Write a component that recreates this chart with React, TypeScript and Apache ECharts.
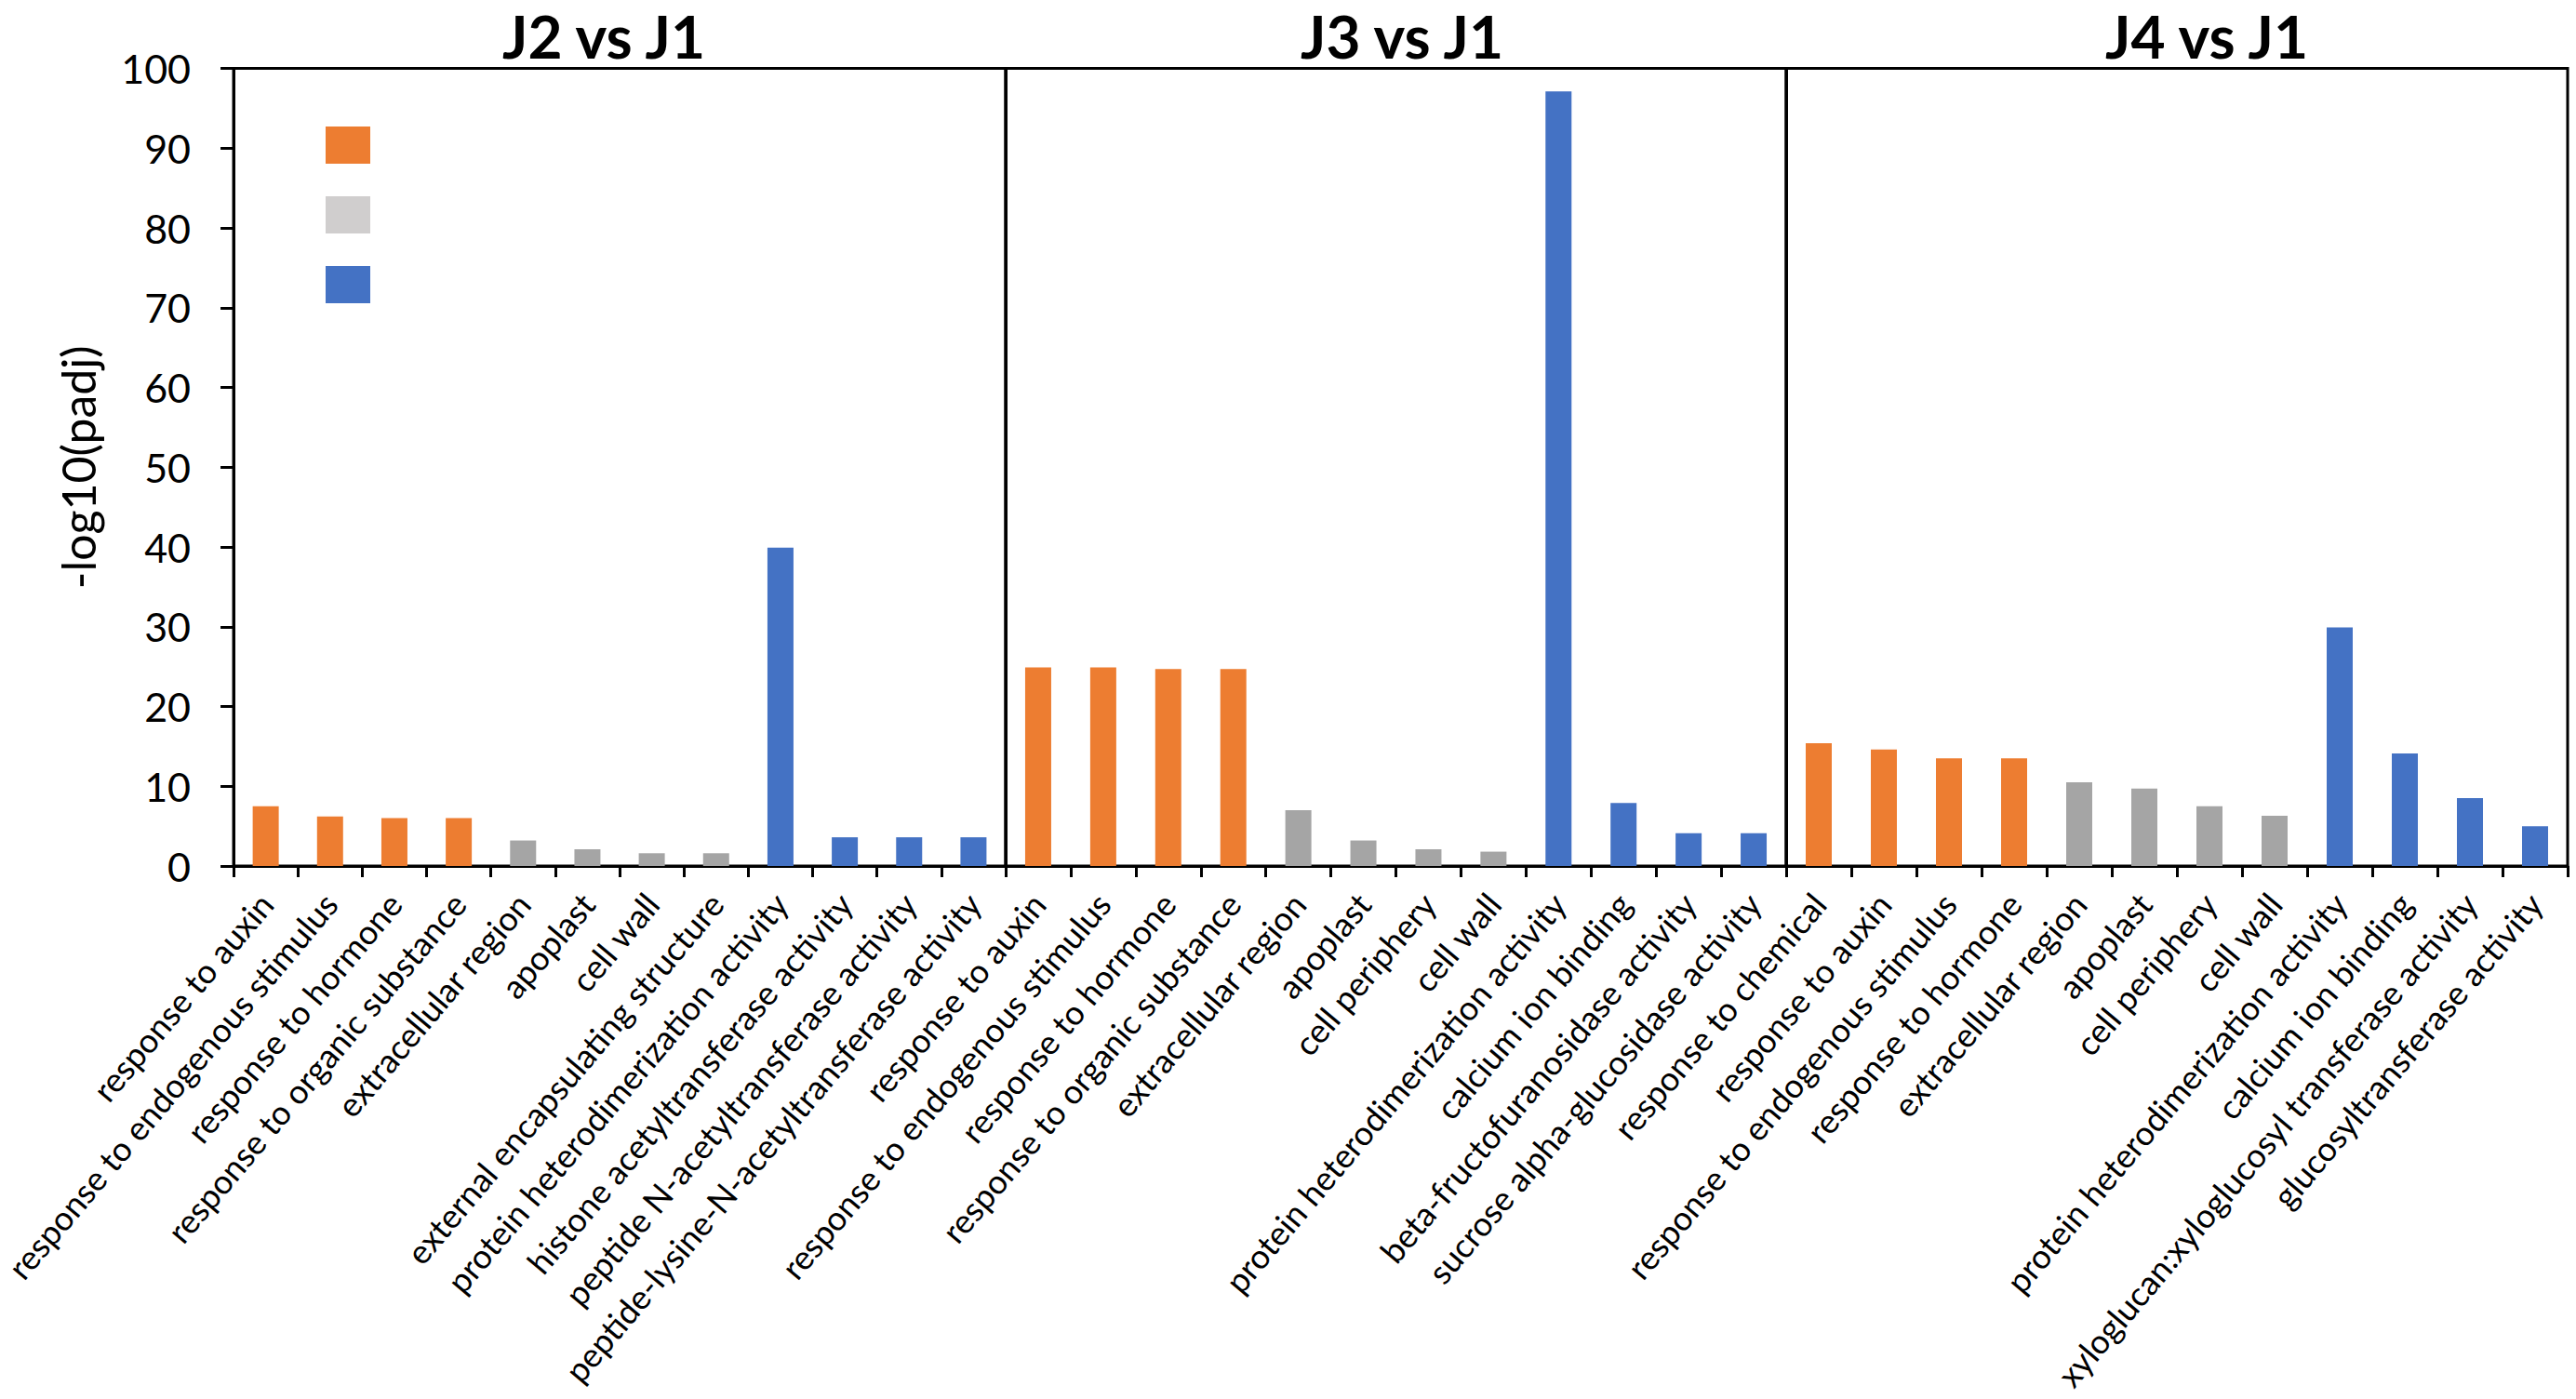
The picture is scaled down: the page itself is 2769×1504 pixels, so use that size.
import React, { useEffect, useRef } from "react";
import * as echarts from "echarts";

const groupNames = ["BP", "CC", "MF"];
const groupColors = ["#ED7D31", "#A5A5A5", "#4472C4"];
const legendColors = ["#ED7D31", "#D0CECE", "#4472C4"];

const panelTitles = ["J2 vs J1", "J3 vs J1", "J4 vs J1"];

const categoriesJ2 = [
  "response to auxin",
  "response to endogenous stimulus",
  "response to hormone",
  "response to organic substance",
  "extracellular region",
  "apoplast",
  "cell wall",
  "external encapsulating structure",
  "protein heterodimerization activity",
  "histone acetyltransferase activity",
  "peptide N-acetyltransferase activity",
  "peptide-lysine-N-acetyltransferase activity",
];
const groupsJ2 = [0, 0, 0, 0, 1, 1, 1, 1, 2, 2, 2, 2];
const valuesJ2 = [7.5, 6.2, 6.0, 6.0, 3.2, 2.1, 1.6, 1.6, 39.9, 3.6, 3.6, 3.6];

const categoriesJ3 = [
  "response to auxin",
  "response to endogenous stimulus",
  "response to hormone",
  "response to organic substance",
  "extracellular region",
  "apoplast",
  "cell periphery",
  "cell wall",
  "protein heterodimerization activity",
  "calcium ion binding",
  "beta-fructofuranosidase activity",
  "sucrose alpha-glucosidase activity",
];
const groupsJ3 = [0, 0, 0, 0, 1, 1, 1, 1, 2, 2, 2, 2];
const valuesJ3 = [24.9, 24.9, 24.7, 24.7, 7.0, 3.2, 2.1, 1.8, 97.1, 7.9, 4.1, 4.1];

const categoriesJ4 = [
  "response to chemical",
  "response to auxin",
  "response to endogenous stimulus",
  "response to hormone",
  "extracellular region",
  "apoplast",
  "cell periphery",
  "cell wall",
  "protein heterodimerization activity",
  "calcium ion binding",
  "xyloglucan:xyloglucosyl transferase activity",
  "glucosyltransferase activity",
];
const groupsJ4 = [0, 0, 0, 0, 1, 1, 1, 1, 2, 2, 2, 2];
const valuesJ4 = [15.4, 14.6, 13.5, 13.5, 10.5, 9.7, 7.5, 6.3, 29.9, 14.1, 8.5, 5.0];

const yMin = 0;
const yMax = 100;
const yInterval = 10;

const FONT = "Lato, Calibri, 'Open Sans', sans-serif";

const panels = [
  { cats: categoriesJ2, groups: groupsJ2, values: valuesJ2 },
  { cats: categoriesJ3, groups: groupsJ3, values: valuesJ3 },
  { cats: categoriesJ4, groups: groupsJ4, values: valuesJ4 },
];

export default function App() {
  const ref = useRef<HTMLDivElement>(null);

  useEffect(() => {
    document.body.style.margin = "0";
    if (!ref.current) return;
    const chart = echarts.init(ref.current, undefined, { renderer: "svg" });

    const gridLefts = [244, 1081, 1920];
    const gridWidths = [837, 839, 840];
    const titleCenters = [649, 1507, 2372];

    const grids = gridLefts.map((l, i) => ({
      left: l,
      width: gridWidths[i],
      top: 73.5,
      bottom: 573,
      show: true,
      borderColor: "#000",
      borderWidth: 3,
      containLabel: false,
    }));

    const xAxes = panels.map((p, i) => ({
      type: "category",
      gridIndex: i,
      data: p.cats,
      boundaryGap: true,
      axisLine: { show: true, lineStyle: { color: "#000", width: 3 } },
      axisTick: {
        show: true,
        alignWithLabel: false,
        length: 12,
        lineStyle: { color: "#000", width: 3 },
      },
      axisLabel: {
        interval: 0,
        rotate: 50,
        fontSize: 36,
        fontFamily: FONT,
        color: "#000",
        margin: 34,
      },
    }));

    const yAxes = panels.map((p, i) => ({
      type: "value",
      gridIndex: i,
      min: yMin,
      max: yMax,
      interval: yInterval,
      splitLine: { show: false },
      axisLine: { show: true, lineStyle: { color: "#000", width: 3 } },
      axisTick: {
        show: i === 0,
        length: 14,
        lineStyle: { color: "#000", width: 3 },
      },
      axisLabel: {
        show: i === 0,
        fontSize: 43,
        fontFamily: FONT,
        color: "#000",
        margin: 46,
      },
      name: i === 0 ? "-log10(padj)" : "",
      nameLocation: "middle",
      nameGap: 142,
      nameTextStyle: { fontSize: 50, fontFamily: FONT, color: "#000" },
    }));

    const series: any[] = [];
    panels.forEach((p, pi) => {
      groupNames.forEach((g, gi) => {
        series.push({
          name: g,
          type: "bar",
          xAxisIndex: pi,
          yAxisIndex: pi,
          stack: "panel" + pi,
          barWidth: 28,
          itemStyle: { color: groupColors[gi] },
          data: p.values.map((v, k) => (p.groups[k] === gi ? v : "-")),
        });
      });
    });

    const option: any = {
      animation: false,
      backgroundColor: "#fff",
      grid: grids,
      xAxis: xAxes,
      yAxis: yAxes,
      legend: {
        show: true,
        orient: "vertical",
        left: 350,
        top: 136,
        padding: 0,
        itemWidth: 48,
        itemHeight: 40,
        itemGap: 35,
        icon: "rect",
        selectedMode: false,
        formatter: () => "",
        textStyle: { fontSize: 10 },
        data: groupNames.map((g, i) => ({
          name: g,
          itemStyle: { color: legendColors[i] },
        })),
      },
      graphic: panelTitles.map((t, i) => ({
        type: "text",
        x: titleCenters[i],
        y: 6,
        style: {
          text: t,
          fontSize: 64,
          fontWeight: "bold",
          fontFamily: FONT,
          fill: "#000",
          textAlign: "center",
          textVerticalAlign: "top",
        },
      })),
      series,
    };

    chart.setOption(option);
    return () => {
      chart.dispose();
    };
  }, []);

  return <div ref={ref} style={{ width: 2769, height: 1504 }} />;
}
